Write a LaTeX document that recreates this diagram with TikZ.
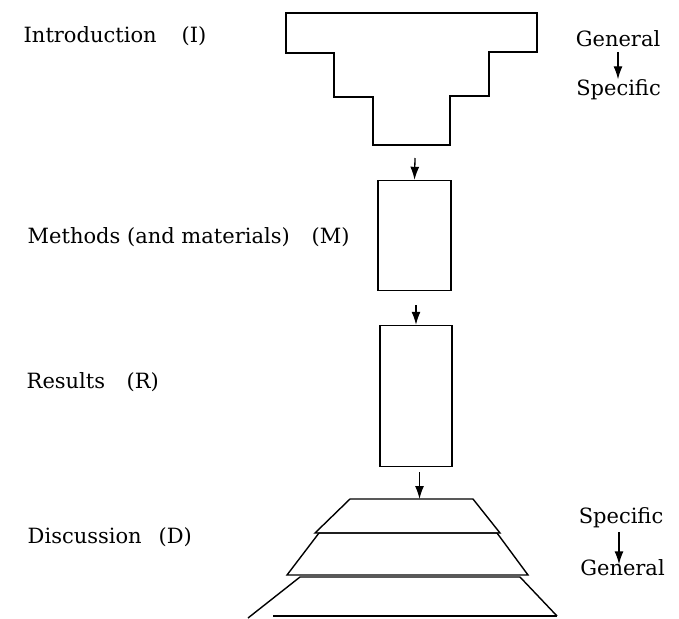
\documentclass[tikz,border=0pt]{standalone}
\usepackage{fontspec}
\setmainfont{DejaVu Serif}
\usepackage{tikz}
\usetikzlibrary{arrows.meta}

\begin{document}
\begin{tikzpicture}[x=1pt, y=-1pt, line width=1.4pt,
	every node/.style={font=\fontsize{21}{24}\selectfont},
	lbl/.style={anchor=base west, inner sep=0pt},
	side/.style={anchor=base, inner sep=0pt},
	secbox/.style={draw, line width=1.4pt, inner sep=0pt, minimum width=73pt},
	flow/.style={-{Latex[length=13pt, width=9pt]}, line width=1.3pt}]
	
	\useasboundingbox (0,0) rectangle (679,618);
	
	% Section names
	\node[lbl] (intro) at (23,43) {Introduction};
	\node[lbl] (introI) at (181,43) {(I)};
	\node[lbl] (meth) at (27,243) {Methods (and materials)};
	\node[lbl] (methM) at (311,243) {(M)};
	\node[lbl] (res) at (26,388) {Results};
	\node[lbl] (resR) at (126,388) {(R)};
	\node[lbl] (disc) at (27,543) {Discussion};
	\node[lbl] (discD) at (158,543) {(D)};
	
	% Introduction: stepped funnel
	\draw (286,13) -- (537,13) -- (537,52) -- (489,52) -- (489,96) -- (450,96)
		-- (450,145) -- (373,145) -- (373,97) -- (334,97) -- (334,53) -- (286,53) -- cycle;
	\coordinate (introbot) at (415,158);
	
	% Methods and Results boxes
	\node[secbox, minimum height=110pt] (methbox) at (414.5,235.5) {};
	\coordinate (methbot) at (416,305);
	\node[secbox, minimum width=72pt, minimum height=141pt] (resbox) at (416,396) {};
	\coordinate (resbot) at (419.5,472);
	
	% Discussion: stacked trapezoids
	\draw (350,499) -- (473,499) -- (500,533) -- (315,533) -- cycle;
	\draw (319,533) -- (497,533) -- (528,575) -- (287,575) -- cycle;
	\draw (248,618) -- (300,577) -- (520,577) -- (557,616);
	\draw (273,616) -- (557,616);
	\coordinate (disctop) at (419.5,499);
	
	% Flow arrows
	\draw[flow] (introbot) -- (methbox.north);
	\draw[flow] (methbot) -- (resbox.north);
	\draw[flow] (resbot) -- (disctop);
	
	% General -> Specific, Specific -> General
	\node[side] (gentop) at (618,47) {General};
	\node[side] (spectop) at (618.5,95) {Specific};
	\draw[flow] ([yshift=-5pt]gentop.base) -- ([yshift=-1pt]spectop.north -| gentop.base);
	\node[side] (specbot) at (621,523) {Specific};
	\node[side] (genbot) at (622.5,575) {General};
	\draw[flow] ([xshift=-2pt, yshift=-9pt]specbot.base) -- ([xshift=-2pt, yshift=-6pt]genbot.north -| specbot.base);
	
\end{tikzpicture}
\end{document}
